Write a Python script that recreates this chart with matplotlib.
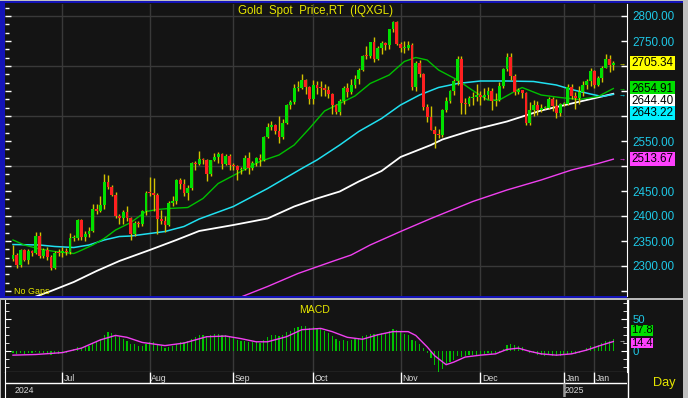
import numpy as np
import matplotlib
matplotlib.use("Agg")
import matplotlib.pyplot as plt
from matplotlib.ticker import MultipleLocator

plt.rcParams['font.family'] = ['Liberation Sans', 'DejaVu Sans']

W, H = 688, 398

# one candle per weekday, mid June 2024 .. mid Jan 2025
opens = [2314, 2322, 2302, 2332, 2313, 2330, 2327, 2360, 2320, 2333,
         2318, 2297, 2327, 2326, 2330, 2328, 2356, 2357, 2392, 2358,
         2364, 2371, 2414, 2410, 2422, 2469, 2459, 2443, 2400, 2396,
         2409, 2396, 2364, 2387, 2384, 2410, 2447, 2446, 2443, 2395,
         2390, 2382, 2427, 2431, 2472, 2465, 2447, 2456, 2507, 2504,
         2514, 2512, 2484, 2512, 2518, 2524, 2504, 2520, 2503, 2500,
         2493, 2494, 2516, 2497, 2506, 2516, 2512, 2558, 2578, 2582,
         2570, 2559, 2587, 2622, 2628, 2657, 2657, 2672, 2658, 2634,
         2662, 2657, 2656, 2653, 2644, 2622, 2608, 2631, 2656, 2649,
         2662, 2674, 2693, 2721, 2720, 2748, 2715, 2736, 2747, 2743,
         2774, 2788, 2744, 2736, 2736, 2743, 2659, 2706, 2684, 2618,
         2598, 2573, 2565, 2563, 2612, 2631, 2650, 2670, 2715, 2626,
         2624, 2636, 2639, 2643, 2639, 2643, 2650, 2631, 2633, 2660,
         2694, 2718, 2681, 2648, 2652, 2646, 2586, 2612, 2622, 2613,
         2617, 2617, 2634, 2621, 2606, 2624, 2624, 2658, 2640, 2636,
         2648, 2662, 2670, 2690, 2663, 2677, 2697, 2715, 2702]
highs = [2342, 2326, 2335, 2335, 2334, 2332, 2368, 2368, 2336, 2338,
         2322, 2330, 2335, 2339, 2336, 2366, 2362, 2395, 2394, 2370,
         2378, 2424, 2425, 2440, 2485, 2483, 2462, 2449, 2405, 2412,
         2420, 2399, 2390, 2390, 2412, 2451, 2478, 2477, 2446, 2412,
         2400, 2430, 2440, 2474, 2476, 2475, 2462, 2508, 2510, 2531,
         2516, 2514, 2513, 2527, 2528, 2526, 2525, 2524, 2506, 2503,
         2499, 2523, 2529, 2510, 2519, 2525, 2560, 2586, 2590, 2585,
         2600, 2595, 2625, 2632, 2664, 2670, 2685, 2675, 2661, 2672,
         2670, 2670, 2665, 2660, 2646, 2625, 2634, 2661, 2666, 2674,
         2683, 2697, 2723, 2740, 2749, 2758, 2740, 2750, 2749, 2775,
         2790, 2790, 2749, 2750, 2750, 2746, 2710, 2713, 2687, 2625,
         2620, 2580, 2575, 2615, 2638, 2652, 2674, 2720, 2721, 2636,
         2641, 2648, 2665, 2650, 2657, 2658, 2657, 2646, 2668, 2697,
         2726, 2726, 2684, 2656, 2653, 2648, 2628, 2632, 2630, 2625,
         2620, 2639, 2638, 2634, 2627, 2628, 2664, 2665, 2649, 2661,
         2670, 2675, 2697, 2693, 2680, 2700, 2725, 2722, 2710]
lows = [2311, 2296, 2299, 2310, 2305, 2320, 2325, 2316, 2316, 2312,
        2292, 2295, 2320, 2318, 2322, 2325, 2350, 2353, 2353, 2351,
        2358, 2368, 2405, 2408, 2415, 2455, 2440, 2396, 2384, 2385,
        2390, 2353, 2360, 2378, 2380, 2403, 2440, 2411, 2364, 2385,
        2368, 2380, 2420, 2425, 2455, 2440, 2432, 2453, 2492, 2502,
        2505, 2471, 2480, 2510, 2506, 2494, 2502, 2493, 2493, 2472,
        2484, 2492, 2485, 2493, 2501, 2500, 2510, 2556, 2573, 2565,
        2546, 2555, 2585, 2615, 2624, 2650, 2655, 2645, 2625, 2624,
        2644, 2641, 2640, 2637, 2605, 2604, 2603, 2625, 2638, 2645,
        2656, 2665, 2690, 2714, 2716, 2708, 2713, 2725, 2733, 2735,
        2768, 2742, 2729, 2727, 2732, 2652, 2651, 2679, 2613, 2589,
        2572, 2537, 2556, 2559, 2608, 2626, 2643, 2662, 2605, 2604,
        2620, 2623, 2630, 2622, 2632, 2635, 2613, 2621, 2630, 2657,
        2690, 2672, 2642, 2645, 2636, 2583, 2583, 2600, 2603, 2608,
        2614, 2615, 2611, 2597, 2601, 2620, 2622, 2635, 2614, 2625,
        2640, 2655, 2660, 2656, 2660, 2668, 2696, 2689, 2693]
closes = [2322, 2302, 2332, 2313, 2330, 2327, 2360, 2320, 2333, 2318,
          2297, 2327, 2326, 2330, 2328, 2356, 2357, 2392, 2358, 2364,
          2371, 2414, 2410, 2422, 2469, 2459, 2443, 2400, 2396, 2409,
          2396, 2364, 2387, 2384, 2410, 2447, 2446, 2443, 2395, 2390,
          2382, 2427, 2431, 2472, 2465, 2447, 2456, 2507, 2504, 2514,
          2512, 2484, 2512, 2518, 2524, 2504, 2520, 2503, 2500, 2493,
          2494, 2516, 2497, 2506, 2516, 2512, 2558, 2578, 2582, 2570,
          2559, 2587, 2622, 2628, 2657, 2657, 2672, 2658, 2634, 2662,
          2657, 2656, 2653, 2644, 2622, 2608, 2631, 2656, 2649, 2662,
          2674, 2693, 2721, 2720, 2748, 2715, 2736, 2747, 2743, 2774,
          2788, 2744, 2736, 2736, 2743, 2659, 2706, 2684, 2618, 2598,
          2573, 2565, 2563, 2612, 2631, 2650, 2670, 2715, 2626, 2624,
          2636, 2639, 2643, 2639, 2643, 2650, 2631, 2633, 2660, 2694,
          2718, 2681, 2648, 2652, 2646, 2586, 2612, 2622, 2613, 2617,
          2617, 2634, 2621, 2606, 2624, 2624, 2658, 2640, 2636, 2648,
          2662, 2670, 2690, 2663, 2677, 2697, 2715, 2702, 2705.34]

ma_green_idx = [0, 3, 7, 11, 16, 17, 21, 24, 27, 31, 35, 38, 41, 46, 50, 54, 60, 65, 70, 74,
                78, 82, 86, 90, 94, 99, 103, 106, 109, 112, 117, 121, 125, 128, 132, 134, 139,
                144, 149, 154, 156, 158]
ma_green = [2352, 2342, 2334, 2329, 2325, 2328, 2342, 2355, 2372, 2387, 2409, 2413, 2415, 2417,
            2435, 2465, 2489, 2509, 2522, 2542, 2575, 2610, 2625, 2640, 2665, 2682, 2709, 2717,
            2712, 2692, 2672, 2651, 2632, 2632, 2649, 2657, 2642, 2637, 2633, 2639, 2647,
            2654.91]
ma_cyan_idx = [0, 7, 11, 16, 20, 24, 28, 31, 35, 40, 45, 49, 58, 67, 76, 80, 86, 91, 97, 102,
               107, 112, 117, 123, 130, 137, 143, 147, 152, 155, 158]
ma_cyan = [2343, 2342, 2339, 2337, 2342, 2352, 2359, 2360, 2364, 2369, 2379, 2394, 2419, 2455,
           2495, 2512, 2542, 2569, 2595, 2622, 2642, 2657, 2665, 2670, 2670, 2669, 2662, 2653,
           2644, 2639, 2643.22]
ma_white_idx = [5, 10, 16, 22, 28, 36, 43, 49, 58, 67, 74, 80, 86, 91, 97, 102, 110, 113, 121,
                130, 139, 147, 158]
ma_white = [2236, 2250, 2268, 2290, 2310, 2332, 2352, 2370, 2382, 2395, 2419, 2435, 2449, 2469,
            2490, 2518, 2542, 2553, 2572, 2589, 2611, 2625, 2644.40]
ma_magenta_idx = [60, 67, 75, 84, 89, 94, 102, 110, 121, 130, 139, 147, 154, 158]
ma_magenta = [2238, 2259, 2285, 2309, 2322, 2342, 2369, 2395, 2429, 2452, 2472, 2492, 2505,
              2513.67]

macd_hist = [-4, -5, -4, -5, -4, -4, -2, -4, -4, -5, -6, -5, -5,
             -3, -3, 0, 2, 6, 5, 6, 8, 12, 14,
             18, 25, 30, 28, 25, 22, 19, 16, 11, 10,
             8, 7, 10, 13, 14, 10, 7, 5, 6, 7,
             11, 13, 14, 15, 19, 21, 24, 25, 23, 24,
             26, 26, 25, 25, 22, 20, 17, 15, 15, 13,
             13, 13, 12, 17, 21, 24, 24, 23, 25, 29,
             31, 35, 37, 39, 39, 36, 37, 36, 34, 31,
             28, 23, 18, 16, 17, 16, 17, 18, 20, 23,
             24, 27, 26, 27, 28, 28, 31, 34, 32, 30,
             27, 25, 17, 15, 11, 4, -3, -12, -22, -33,
             -28, -22, -18, -14, -8, -10, -9, -7, -6, -6,
             -6, -5, -4, -5, -4, -2, 3, 9, 10, 9,
             8, 6, 0, -3, -4, -6, -7, -8, -7, -8,
             -9, -8, -7, -5, -5, -5, -3, 0, 4, 8,
             7, 9, 12, 15, 16, 17.8]
signal_idx = [0, 6, 13, 18, 23, 27, 30, 34, 40, 45, 51, 56, 60, 64, 67, 72, 76, 81, 84, 88, 92,
              96, 100, 104, 106, 109, 111, 114, 116, 119, 123, 127, 130, 133, 136, 139, 143, 147,
              151, 155, 158]
signal = [-7, -6, -3, 4, 17, 24, 21, 13, 8, 12, 22, 23, 19, 14, 14, 22, 33, 35, 30, 21, 18,
          25, 30, 30, 24, 6, -8, -22, -18, -10, -7, -5, 2, 4, -1, -5, -7, -5, 1, 9, 14.4]

month_idx = [13, 36, 58, 79, 102, 123, 145, 153]
month_names = ['Jul', 'Aug', 'Sep', 'Oct', 'Nov', 'Dec', 'Jan', 'Jan']
year_idx = [0, 145]
year_names = ['2024', '2025']
grid_levels = [2300, 2400, 2500, 2600, 2700, 2800]
price_ticks = [2250, 2300, 2350, 2400, 2450, 2500, 2550, 2600, 2650, 2700, 2750, 2800]
hidden_ticks = [2250, 2500, 2600, 2650, 2700]   # covered by the value tags

BG = '#141414'
GRID = '#393939'
YELLOW = '#e6e600'
CYAN_TXT = '#1ec8e6'
C_GREEN = '#00c000'
C_CYAN = '#20e0f0'
C_WHITE = '#ffffff'
C_MAG = '#f040f0'

fig = plt.figure(figsize=(W / 100, H / 100), dpi=100, facecolor=BG)


def px_axes(x0, y0, x1, y1, **kw):
    return fig.add_axes([x0 / W, 1 - y1 / H, (x1 - x0) / W, (y1 - y0) / H], **kw)


ax = px_axes(5, 4, 627, 296)
ax2 = px_axes(5, 300, 627, 372, sharex=ax)
ax3 = px_axes(5, 372, 627, 397, sharex=ax)

x = np.arange(len(closes))
o = np.array(opens, dtype=float)
c = np.array(closes, dtype=float)

for a in (ax, ax2, ax3):
    a.set_facecolor(BG)
    for s in a.spines.values():
        s.set_visible(False)

# ---- price panel
for lvl in grid_levels:
    ax.axhline(lvl, color=GRID, lw=1, zorder=1)
for i in month_idx:
    ax.axvline(i, color=GRID, lw=1, zorder=1)
    ax2.axvline(i, color=GRID, lw=1, zorder=1)

ax.plot(ma_magenta_idx, ma_magenta, color=C_MAG, lw=1, zorder=2)
ax.plot(ma_white_idx, ma_white, color=C_WHITE, lw=1.3, zorder=2)
ax.plot(ma_cyan_idx, ma_cyan, color=C_CYAN, lw=1.1, zorder=2)
ax.plot(ma_green_idx, ma_green, color=C_GREEN, lw=1, zorder=2)

up = c >= o
ax.vlines(x, lows, highs, color='#d2c200', lw=1, zorder=3)
body = np.maximum(np.abs(c - o), 2.0)
ax.bar(x, body, bottom=np.minimum(o, c), width=0.75,
       color=np.where(up, '#00e000', '#ff2020'), linewidth=0, zorder=4)

ax.set_xlim(-2.1, 161.6)
ax.set_ylim(2240, 2824)
ax.yaxis.tick_right()
ax.set_yticks(price_ticks, ['' if t in hidden_ticks else f'{t:.2f}' for t in price_ticks])
ax.yaxis.set_minor_locator(MultipleLocator(50 / 3))
ax.tick_params(axis='y', which='major', direction='in', length=4, width=1, color='white',
               labelcolor=CYAN_TXT, labelsize=8.4, pad=4, left=True, right=True)
ax.tick_params(axis='y', which='minor', direction='in', length=3, width=1, color='white',
               left=True, right=False)
ax.tick_params(axis='x', which='both', bottom=False, labelbottom=False)
ax.spines['right'].set_visible(True)
ax.spines['right'].set_color('white')

ax.text(0.5, 0.976, 'Gold  Spot  Price,RT  (IQXGL)', transform=ax.transAxes, ha='center',
        va='center', color=YELLOW, fontsize=8.3)
ax.text(0.0145, 0.016, 'No Gaps', transform=ax.transAxes, ha='left', va='center',
        color=YELLOW, fontsize=6.4)

# value tags on the right
tags = [(closes[-1], '#ffff00', 0), (ma_green[-1], '#00e000', 0),
        (ma_white[-1], '#ffffff', -5.2), (ma_cyan[-1], '#00f0ff', -13.4),
        (ma_magenta[-1], '#ff40ff', 0)]
for v, col, dy in tags:
    ax.annotate(f'{v:.2f}', xy=(1, v), xycoords=('axes fraction', 'data'),
                xytext=(3.2, dy), textcoords='offset points', ha='left', va='center',
                fontsize=8.4, color='black', annotation_clip=False,
                bbox=dict(boxstyle='square,pad=0.1', fc=col, ec='none'))
for v, col in [(closes[-1], '#e6e600'), (ma_green[-1], '#00e000'), (ma_cyan[-1], '#00f0ff'),
               (ma_magenta[-1], '#ff40ff')]:
    ax.text(160.3, v, '→', color=col, fontsize=5, ha='center', va='center', zorder=5)

# ---- MACD panel
ax2.bar(x, macd_hist, width=0.3, color='#00c000', linewidth=0, zorder=2)
ax2.plot(signal_idx, signal, color=C_MAG, lw=1, zorder=3)
ax2.set_ylim(-33.5, 79.7)
ax2.yaxis.tick_right()
ax2.set_yticks([0, 50], ['0', '50'])
ax2.yaxis.set_minor_locator(MultipleLocator(12.5))
ax2.tick_params(axis='y', which='major', direction='in', length=4, color='white',
                labelcolor=CYAN_TXT, labelsize=8.2, pad=4, left=True, right=True)
ax2.tick_params(axis='y', which='minor', direction='in', length=3, color='white',
                left=True, right=True)
ax2.tick_params(axis='x', which='both', bottom=False, labelbottom=False)
for side in ('right', 'left', 'bottom'):
    ax2.spines[side].set_visible(True)
    ax2.spines[side].set_color('white')
ax2.text(0.498, 0.86, 'MACD', transform=ax2.transAxes, ha='center', va='center',
         color=YELLOW, fontsize=7.6)
for v, col, dy in [(macd_hist[-1], '#00e000', 6.6), (signal[-1], '#ff40ff', -1.0)]:
    ax2.annotate(f'{v:.1f}', xy=(1, v), xycoords=('axes fraction', 'data'),
                 xytext=(3.2, dy), textcoords='offset points', ha='left', va='center',
                 fontsize=8.0, color='black', annotation_clip=False,
                 bbox=dict(boxstyle='square,pad=0.03', fc=col, ec='none'))
ax2.text(160.3, 16, '→', color='#e0e0e0', fontsize=5, ha='center', va='center')

# ---- date rows
ax3.set_ylim(25, 0)
ax3.tick_params(which='both', left=False, right=False, bottom=False,
                labelleft=False, labelbottom=False)
ax3.axhline(11, color='white', lw=1)
for i, name in zip(month_idx, month_names):
    ax3.plot([i, i], [0, 11], color='white', lw=1, solid_capstyle='butt')
    ax3.text(i + 0.4, 6.2, name, color='#d8d8d8', fontsize=6.3, ha='left', va='center')
for i, name in zip(year_idx, year_names):
    if i > 0:
        ax3.plot([i, i], [11, 25], color='#9a9a9a', lw=1.8, solid_capstyle='butt')
    ax3.text(i + 0.3, 18.5, name, color='#d8d8d8', fontsize=6.3, ha='left', va='center')
ax3.spines['left'].set_visible(True)
ax3.spines['left'].set_color('white')

# ---- frame
deco = fig.add_axes([0, 0, 1, 1], zorder=10)
deco.set_xlim(0, W)
deco.set_ylim(H, 0)
deco.axis('off')
deco.patch.set_alpha(0)
deco.add_patch(plt.Rectangle((0, 0), 4.5, 298, color='#1414b8', lw=0))
deco.add_patch(plt.Rectangle((0, 0.5), 683, 2.5, color='#1414b8', lw=0))
deco.add_patch(plt.Rectangle((0, 295.5), 627, 2.5, color='#1414b8', lw=0))
deco.add_patch(plt.Rectangle((0, 298), 683, 2, color='#b8b8b8', lw=0))
deco.add_patch(plt.Rectangle((683, 0), 5, H, color='#c0c0c0', lw=0))
deco.add_patch(plt.Rectangle((0, 0), 688, 0.8, color='#c0c0c0', lw=0))
deco.add_patch(plt.Rectangle((0, 300), 1.2, 98, color='#b8b8b8', lw=0))
deco.plot([627.5, 627.5], [300, 397], color='white', lw=1)
deco.text(653, 383, 'Day', color=YELLOW, fontsize=9.2, ha='left', va='center')

fig.savefig('out.png', dpi=100, facecolor=BG)
